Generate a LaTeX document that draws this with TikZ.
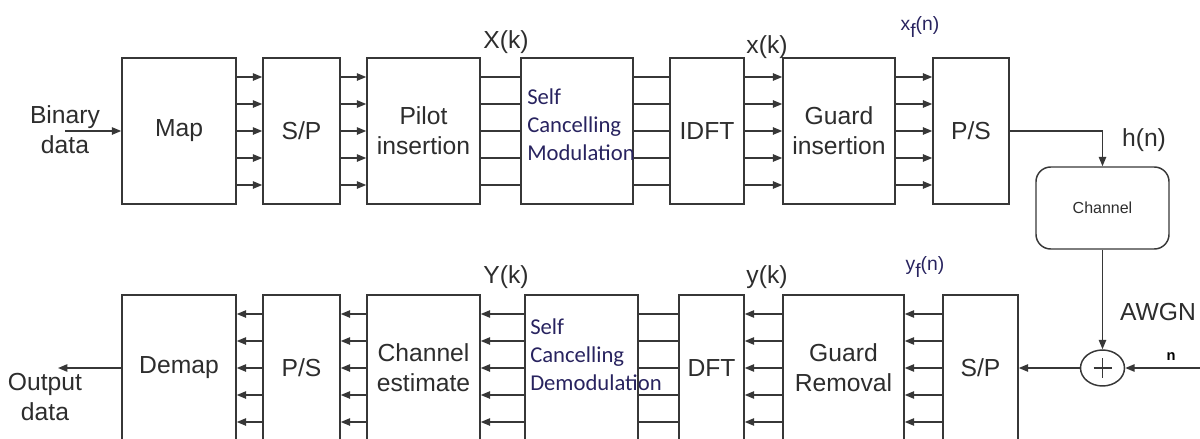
\documentclass[tikz,border=0pt]{standalone}
\usepackage{fontspec}
\setmainfont{Liberation Sans}
\newfontfamily\calfont{Carlito}
\usetikzlibrary{arrows.meta,calc,shapes.geometric}
\definecolor{linec}{RGB}{55,55,55}
\definecolor{txtc}{RGB}{45,45,45}
\definecolor{scmc}{RGB}{40,35,95}
\tikzset{
  blk/.style 2 args={draw=linec, line width=1.1pt, minimum width=#1*0.75pt, minimum height=#2*0.75pt, inner sep=0pt, align=center},
  arr/.style={draw=linec, line width=1.1pt, -{Triangle[length=7pt,width=5.5pt]}},
  wire/.style={draw=linec, line width=1.1pt},
  scmtext/.style={anchor=west, inner sep=0pt, align=left, text=scmc, font=\calfont\fontsize{17}{21}\selectfont},
  sublbl/.style={text=scmc, font=\fontsize{14.5}{16}\selectfont}
}
\begin{document}
\begin{tikzpicture}[x=0.75pt, y=-0.75pt, every node/.style={font=\fontsize{18.5}{22.5}\selectfont, text=txtc, align=center}]
  \useasboundingbox (0,0) rectangle (1200,439);
  \clip (0,0) rectangle (1200,439);
  % Transmitter row
  \node[blk={114}{146}] (map) at (179,131) {Map};
  \node[blk={77}{146}] (sp1) at (301.5,131) {S/P};
  \node[blk={113}{146}] (pilot) at (423.5,131) {Pilot\\insertion};
  \node[blk={112}{146}] (scm) at (577,131) {};
  \node[scmtext] (scmtxt) at (527,125) {Self\\Cancelling\\Modulation};
  \node[blk={74}{146}] (idft) at (707,131) {IDFT};
  \node[blk={112}{146}] (guard) at (839,131) {Guard\\insertion};
  \node[blk={76}{146}] (ps1) at (971,131) {P/S};
  % Parallel lines, transmitter
  \foreach \o in {-54,-27,0,27,54} {
    \draw[arr] ($(map.east)+(0,\o)$) -- ($(sp1.west)+(0,\o)$);
    \draw[arr] ($(sp1.east)+(0,\o)$) -- ($(pilot.west)+(0,\o)$);
    \draw[wire] ($(pilot.east)+(0,\o)$) -- ($(scm.west)+(0,\o)$);
    \draw[wire] ($(scm.east)+(0,\o)$) -- ($(idft.west)+(0,\o)$);
    \draw[arr] ($(idft.east)+(0,\o)$) -- ($(guard.west)+(0,\o)$);
    \draw[arr] ($(guard.east)+(0,\o)$) -- ($(ps1.west)+(0,\o)$);
  }
  % Input
  \node (bin) at (65,130) {Binary\\data};
  \coordinate (binin) at (65,131);
  \draw[arr] (binin) -- (map.west);
  % Signal labels, transmitter
  \node (Xk) at (506,42) {X(k)};
  \node (xk) at (767,47) {x(k)};
  \node[sublbl] (xf) at (920,27) {x\raisebox{-5pt}{f}(n)};
  % Channel and noise
  \node[draw=linec, line width=1.1pt, rounded corners=11pt, minimum width=133*0.75pt, minimum height=82*0.75pt] (chan) at (1102.5,208) {\fontsize{12}{14}\selectfont Channel};
  \draw[arr] (ps1.east) -| (chan.north);
  \node (hn) at (1144,140) {h(n)};
  \node[ellipse, draw=linec, line width=1.1pt, minimum width=44*0.75pt, minimum height=36*0.75pt, inner sep=0pt] (add) at (1102.5,368) {};
  \draw[wire, line width=0.9pt] ($(add.center)+(-9,0)$) -- ($(add.center)+(9,0)$);
  \draw[wire, line width=0.9pt] ($(add.center)+(0,-10)$) -- ($(add.center)+(0,10)$);
  \draw[arr] (chan.south) -- (add.north);
  \node (awgn) at (1158,312) {AWGN};
  \coordinate (nin) at (1200,368);
  \draw[arr] (nin) -- (add.east);
  \node[font=\fontsize{11}{12}\selectfont\bfseries, text=black] (nmark) at (1171,357) {n};
  % Receiver row
  \node[blk={114}{146}] (demap) at (179,368) {Demap};
  \node[blk={77}{146}] (ps2) at (301.5,368) {P/S};
  \node[blk={113}{146}] (chest) at (423.5,368) {Channel\\estimate};
  \node[blk={113}{146}] (scd) at (581.5,368) {};
  \node[scmtext] (scdtxt) at (530,355) {Self\\Cancelling\\Demodulation};
  \node[blk={65}{146}] (dft) at (711.5,368) {DFT};
  \node[blk={121}{146}] (grem) at (843.5,368) {Guard\\Removal};
  \node[blk={75}{146}] (sp2) at (980.5,368) {S/P};
  \draw[arr] (add.west) -- (sp2.east);
  % Parallel lines, receiver
  \foreach \o in {-54,-27,0,27,54} {
    \draw[arr] ($(ps2.west)+(0,\o)$) -- ($(demap.east)+(0,\o)$);
    \draw[arr] ($(chest.west)+(0,\o)$) -- ($(ps2.east)+(0,\o)$);
    \draw[arr] ($(scd.west)+(0,\o)$) -- ($(chest.east)+(0,\o)$);
    \draw[wire] ($(scd.east)+(0,\o)$) -- ($(dft.west)+(0,\o)$);
    \draw[arr] ($(grem.west)+(0,\o)$) -- ($(dft.east)+(0,\o)$);
    \draw[arr] ($(sp2.west)+(0,\o)$) -- ($(grem.east)+(0,\o)$);
  }
  % Output
  \coordinate (outend) at (58,368);
  \draw[arr] (demap.west) -- (outend);
  \node (out) at (45,397) {Output\\data};
  % Signal labels, receiver
  \node (Yk) at (506,277) {Y(k)};
  \node (yk) at (767,277) {y(k)};
  \node[sublbl] (yf) at (925,267) {y\raisebox{-5pt}{f}(n)};
\end{tikzpicture}
\end{document}
